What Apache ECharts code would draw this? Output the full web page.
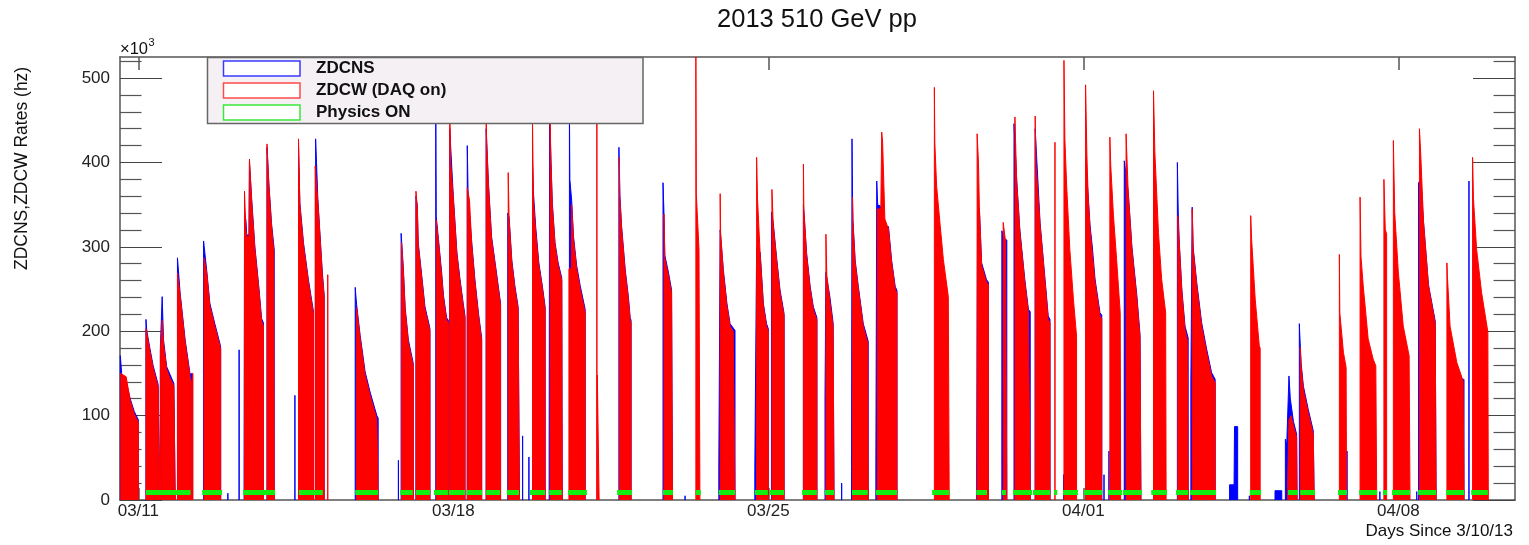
<!DOCTYPE html>
<html>
<head>
<meta charset="utf-8">
<script src="https://cdn.jsdelivr.net/npm/echarts@6/dist/echarts.min.js"></script>
<style>
html,body{margin:0;padding:0;background:#fff;}
#chart{width:1529px;height:545px;}
</style>
</head>
<body>
<div id="chart"></div>
<script>
// ---------------- DATA (days since 3/10/13, rates in 10^3 Hz) ----------------
const chartTitle = '2013 510 GeV pp';
const yAxisTitle = 'ZDCNS,ZDCW Rates (hz)';
const xAxisTitle = 'Days Since 3/10/13';
const seriesNames = ['ZDCNS', 'ZDCW (DAQ on)', 'Physics ON'];
const xTickDays = [1, 8, 15, 22, 29];
const xTickLabels = ['03/11', '03/18', '03/25', '04/01', '04/08'];
const yTickValues = [0, 100, 200, 300, 400, 500];
const physicsLevel = 9;

// ZDCW (DAQ on) fills: [day, rate] read along the top of each red fill
const zdcwFills = [
  [[0.61,150],[0.73,146],[0.82,118],[0.91,102],[1.00,92]],
  [[1.17,203],[1.26,176],[1.33,156],[1.44,134],[1.48,132]],
  [[1.49,176],[1.53,213],[1.56,185],[1.63,155],[1.70,145],[1.79,135],[1.82,133]],
  [[1.87,269],[1.93,242],[2.04,187],[2.15,146],[2.18,140]],
  [[2.46,287],[2.52,269],[2.59,230],[2.70,206],[2.82,181],[2.83,178]],
  [[3.36,366],[3.39,320],[3.41,312],[3.46,312],[3.47,404],[3.52,353],[3.59,297],[3.67,254],[3.74,212],[3.78,207]],
  [[3.86,422],[3.90,373],[3.96,325],[4.01,295],[4.02,293]],
  [[4.56,428],[4.59,349],[4.67,302],[4.78,258],[4.89,221]],
  [[4.93,396],[4.95,396],[4.99,353],[5.09,266],[5.13,240]],
  [[5.85,228],[5.93,191],[6.04,148],[6.15,124],[6.30,96],[6.33,94]],
  [[6.85,305],[6.89,270],[6.93,225],[7.00,187],[7.11,159]],
  [[7.17,366],[7.20,345],[7.22,302],[7.30,262],[7.37,226],[7.47,203],[7.48,200]],
  [[7.62,332],[7.67,305],[7.74,266],[7.78,240],[7.85,213],[7.89,210]],
  [[7.92,470],[7.94,400],[8.00,357],[8.08,290],[8.15,258],[8.22,230],[8.26,215]],
  [[8.31,370],[8.36,355],[8.41,302],[8.48,258],[8.56,218],[8.63,189]],
  [[8.73,460],[8.74,426],[8.78,373],[8.85,309],[8.96,266],[9.04,234],[9.05,230]],
  [[9.22,388],[9.24,332],[9.30,281],[9.37,250],[9.44,226],[9.47,224]],
  [[9.76,450],[9.78,355],[9.83,318],[9.90,278],[9.98,250],[10.04,226]],
  [[10.15,455],[10.17,400],[10.20,349],[10.26,302],[10.33,278],[10.41,260],[10.42,258]],
  [[10.57,274],[10.62,274],[10.63,350],[10.67,309],[10.74,274],[10.82,250],[10.93,222]],
  [[11.20,148],[11.24,148]],
  [[11.69,406],[11.70,359],[11.74,321],[11.82,270],[11.89,238],[11.93,213],[11.95,210]],
  [[12.68,339],[12.70,286],[12.78,266],[12.85,246],[12.87,244]],
  [[13.39,525],[13.40,363],[13.46,297],[13.48,295]],
  [[13.93,363],[13.94,317],[14.00,270],[14.08,230],[14.15,206],[14.22,200],[14.26,198]],
  [[14.74,406],[14.76,357],[14.82,290],[14.89,230],[14.96,206],[15.00,200]],
  [[15.08,368],[15.11,325],[15.19,281],[15.26,246],[15.35,218]],
  [[15.78,398],[15.79,345],[15.85,290],[15.93,250],[16.00,226],[16.08,213]],
  [[16.28,315],[16.30,266],[16.37,234],[16.44,206],[16.46,204]],
  [[16.87,359],[16.88,329],[16.93,281],[17.00,250],[17.11,206],[17.21,186],[17.22,185]],
  [[17.42,345],[17.50,345],[17.52,436],[17.54,424],[17.59,333],[17.67,321],[17.74,281],[17.82,250],[17.86,245]],
  [[18.69,489],[18.70,424],[18.74,372],[18.82,325],[18.89,285],[19.00,241],[19.02,240]],
  [[19.64,434],[19.67,400],[19.69,347],[19.74,278],[19.85,258],[19.89,255]],
  [[20.22,329],[20.25,329],[20.27,307],[20.30,305]],
  [[20.48,454],[20.52,376],[20.59,317],[20.70,258],[20.78,222],[20.82,220]],
  [[20.93,455],[20.95,396],[21.04,325],[21.15,258],[21.22,214],[21.26,210]],
  [[21.57,521],[21.59,428],[21.63,372],[21.70,297],[21.78,238],[21.85,194]],
  [[22.05,492],[22.08,408],[22.11,356],[22.15,320],[22.26,258],[22.37,218],[22.41,215]],
  [[22.59,430],[22.61,396],[22.67,337],[22.74,285],[22.82,222],[22.83,220]],
  [[22.95,434],[23.00,361],[23.08,297],[23.19,238],[23.26,192],[23.28,190]],
  [[23.56,485],[23.59,412],[23.67,317],[23.74,262],[23.83,222],[23.84,220]],
  [[24.10,337],[24.13,305],[24.19,246],[24.26,202],[24.31,190],[24.33,188]],
  [[24.42,345],[24.44,297],[24.52,254],[24.63,206],[24.74,175],[24.85,147],[24.93,139]],
  [[25.72,337],[25.74,309],[25.82,238],[25.91,183],[25.93,180]],
  [[26.54,20],[26.57,95],[26.62,100],[26.67,88],[26.74,74],[26.75,72]],
  [[26.82,181],[26.84,159],[26.89,131],[27.00,103],[27.11,78],[27.13,77]],
  [[27.69,291],[27.70,222],[27.78,175],[27.84,157],[27.85,155]],
  [[28.15,359],[28.17,289],[28.22,254],[28.33,191],[28.44,167],[28.50,159],[28.52,157]],
  [[28.68,380],[28.71,321],[28.74,315]],
  [[28.89,426],[28.92,341],[29.00,270],[29.11,206],[29.24,171],[29.26,169]],
  [[29.47,440],[29.50,408],[29.56,329],[29.67,254],[29.82,209],[29.84,207]],
  [[30.08,281],[30.09,266],[30.15,206],[30.30,163],[30.44,141],[30.46,140]],
  [[30.65,406],[30.67,357],[30.74,297],[30.85,246],[30.99,199],[31.00,198]]
];
// isolated thin ZDCW lines [day, rate]
const zdcwSpikes = [[2.21,150],[5.21,267],[11.19,460],[21.37,424]];

// ZDCNS fills (blue, drawn beneath the red)
const zdcnsFills = [
  [[0.60,171],[0.63,150],[0.73,140],[0.82,120],[0.91,105],[1.00,95]],
  [[1.17,214],[1.19,200],[1.26,179],[1.33,159],[1.44,137],[1.48,135]],
  [[1.49,180],[1.53,241],[1.56,190],[1.63,158],[1.79,138],[1.82,136]],
  [[1.87,287],[1.93,245],[2.04,190],[2.15,149],[2.20,150]],
  [[2.45,307],[2.52,272],[2.59,233],[2.70,209],[2.82,184],[2.83,181]],
  [[3.35,40],[3.36,340],[3.39,332],[3.41,314],[3.46,314],[3.47,400],[3.52,356],[3.59,300],[3.67,257],[3.74,215],[3.78,210]],
  [[3.86,418],[3.90,376],[3.96,328],[4.02,297]],
  [[4.56,420],[4.59,352],[4.67,305],[4.78,261],[4.89,224]],
  [[4.94,428],[4.96,400],[4.99,356],[5.09,269],[5.13,243]],
  [[5.82,252],[5.85,232],[5.93,195],[6.04,152],[6.15,128],[6.30,100],[6.33,97]],
  [[6.84,316],[6.89,274],[6.93,228],[7.00,190],[7.11,162]],
  [[7.17,360],[7.20,349],[7.22,305],[7.30,265],[7.37,229],[7.47,206],[7.48,203]],
  [[7.61,470],[7.62,336],[7.67,309],[7.74,270],[7.78,243],[7.85,216],[7.89,213]],
  [[7.92,440],[8.00,360],[8.08,293],[8.15,261],[8.22,233],[8.26,218]],
  [[8.31,420],[8.33,360],[8.36,358],[8.41,305],[8.48,261],[8.56,221],[8.63,192]],
  [[8.73,440],[8.78,376],[8.85,312],[8.96,269],[9.04,237],[9.05,233]],
  [[9.21,340],[9.24,335],[9.30,284],[9.37,253],[9.44,229],[9.47,227]],
  [[9.76,400],[9.78,365],[9.83,324],[9.90,281],[9.98,253],[10.04,229]],
  [[10.13,70],[10.14,455],[10.17,403],[10.20,352],[10.26,305],[10.33,281],[10.41,263],[10.42,261]],
  [[10.58,470],[10.59,380],[10.63,355],[10.67,313],[10.74,278],[10.82,254],[10.93,226]],
  [[11.68,418],[11.70,362],[11.74,324],[11.82,273],[11.89,241],[11.93,216],[11.95,213]],
  [[12.66,376],[12.68,342],[12.70,290],[12.78,270],[12.85,249],[12.87,247]],
  [[13.90,40],[13.93,320],[14.00,273],[14.08,233],[14.15,209],[14.26,201]],
  [[14.70,35],[14.74,300],[14.82,293],[14.89,233],[14.96,209],[15.00,203]],
  [[15.07,341],[15.11,328],[15.19,284],[15.26,249],[15.35,221]],
  [[15.78,350],[15.85,293],[15.93,253],[16.00,229],[16.08,216]],
  [[16.26,122],[16.28,270],[16.30,269],[16.37,240],[16.44,210],[16.46,208]],
  [[16.85,40],[16.86,428],[16.87,365],[16.88,332],[16.93,284],[17.00,253],[17.11,209],[17.22,188]],
  [[17.39,40],[17.41,378],[17.43,350],[17.50,348],[17.59,321],[17.67,324],[17.74,284],[17.82,253],[17.86,248]],
  [[19.63,30],[19.65,341],[19.69,345],[19.74,281],[19.85,261],[19.89,258]],
  [[20.19,319],[20.22,319],[20.24,310],[20.28,310],[20.30,308]],
  [[20.46,446],[20.48,446],[20.52,379],[20.59,320],[20.70,261],[20.78,226],[20.82,223]],
  [[20.93,440],[21.04,328],[21.15,261],[21.22,218],[21.26,214]],
  [[22.06,400],[22.11,359],[22.15,325],[22.20,300],[22.26,262],[22.37,222],[22.41,219]],
  [[22.91,402],[22.94,402],[23.00,364],[23.08,300],[23.19,242],[23.26,196],[23.28,194]],
  [[24.09,400],[24.11,340],[24.13,308],[24.19,249],[24.26,206],[24.33,192]],
  [[24.39,140],[24.42,347],[24.44,300],[24.52,258],[24.63,210],[24.74,179],[24.85,151],[24.93,143]],
  [[25.25,18],[25.35,18],[25.36,87],[25.43,87]],
  [[26.26,11],[26.41,11]],
  [[26.49,72],[26.52,65],[26.57,147],[26.60,120],[26.67,93],[26.74,78],[26.75,76]],
  [[26.80,209],[26.82,185],[26.84,162],[26.89,135],[27.00,107],[27.11,82],[27.13,80]],
  [[29.45,376],[29.50,380],[29.56,330],[29.67,255],[29.82,212],[29.84,211]],
  [[30.40,143],[30.46,143]]
];
// isolated thin ZDCNS lines [day, rate]
const zdcnsSpikes = [[2.99,8],[3.24,178],[4.48,124],[6.78,47],[9.54,76],[9.68,51],[13.15,5],
  [16.63,20],[21.56,30],[22.46,30],[22.57,58],[25.69,5],[27.86,58],[28.59,10],[29.41,10],[30.57,378]];

// Physics ON periods [start day, end day]
const physicsOn = [
  [1.17,2.16],[2.42,2.86],[3.33,4.04],[4.57,5.10],[5.82,6.33],[6.82,7.10],[7.17,7.48],[7.57,7.88],
  [7.90,8.26],[8.30,8.64],[8.73,9.04],[9.19,9.46],[9.70,10.04],[10.13,10.41],[10.55,10.97],[11.64,11.97],
  [12.66,12.88],[13.39,13.50],[13.90,14.26],[14.70,14.99],[15.02,15.35],[15.75,16.08],[16.26,16.46],
  [16.86,17.21],[17.39,17.86],[18.64,19.02],[19.62,19.86],[20.19,20.28],[20.44,20.86],[20.88,21.26],
  [21.35,21.42],[21.55,21.88],[22.02,22.42],[22.55,22.86],[22.88,23.30],[23.51,23.86],[24.06,24.33],
  [24.37,24.95],[25.70,25.95],[26.55,26.77],[26.82,27.15],[27.66,27.86],[28.13,28.53],[28.66,28.75],
  [28.86,29.26],[29.44,29.84],[30.06,30.46],[30.62,30.99]
];

// ---------------- BUILD ----------------
function buildArea(fills, spikes) {
  const out = [];
  fills.forEach(f => {
    out.push([f[0][0], 0]);
    f.forEach(p => out.push(p));
    out.push([f[f.length - 1][0], 0]);
    out.push([f[f.length - 1][0], null]);
  });
  spikes.forEach(s => {
    out.push([s[0], 0], [s[0], s[1]], [s[0], 0], [s[0], null]);
  });
  return out;
}
const greenData = [];
physicsOn.forEach(p => { greenData.push([p[0], physicsLevel], [p[1], physicsLevel], [p[1], null]); });

const yMinorValues = [];
for (let v = 20; v <= 520; v += 20) if (v % 100 !== 0) yMinorValues.push(v);

const FONT = '"Liberation Sans", Arial, Helvetica, sans-serif';
const AXC = '#555';
const X0 = 0.593, X1 = 31.593, Y0 = 0, Y1 = 525;

const chart = echarts.init(document.getElementById('chart'), null, {renderer: 'canvas'});
const legendRows = [
  {y: 68.5, color: '#3a3aff'},
  {y: 90.5, color: '#ff4a4a'},
  {y: 112.5, color: '#3ae83a'}
];
const graphics = [
  {type: 'text', x: 817, y: 20, z: 20, style: {text: chartTitle, font: '25.5px ' + FONT, fill: '#111', textAlign: 'center', textVerticalAlign: 'middle'}},
  {type: 'text', x: 22, y: 270, rotation: Math.PI / 2, z: 20, style: {text: yAxisTitle, font: '17.5px ' + FONT, fill: '#111', textAlign: 'left', textVerticalAlign: 'middle'}},
  {type: 'text', x: 1513, y: 531, z: 20, style: {text: xAxisTitle, font: '17px ' + FONT, fill: '#111', textAlign: 'right', textVerticalAlign: 'middle'}},
  {type: 'text', x: 120, y: 49, z: 20, style: {text: '\u00d710', font: '16.5px ' + FONT, fill: '#111', textAlign: 'left', textVerticalAlign: 'middle'}},
  {type: 'text', x: 148.5, y: 43, z: 20, style: {text: '3', font: '11px ' + FONT, fill: '#111', textAlign: 'left', textVerticalAlign: 'middle'}},
  {type: 'rect', z: 30, shape: {x: 207.5, y: 57.5, width: 435.5, height: 66}, style: {fill: '#f4f0f4', stroke: '#666', lineWidth: 1.5}}
];
legendRows.forEach((r, i) => {
  graphics.push({type: 'rect', z: 31, shape: {x: 223.5, y: r.y - 7.5, width: 76.5, height: 15}, style: {fill: '#fff', stroke: r.color, lineWidth: 1.5}});
  graphics.push({type: 'text', z: 31, x: 316, y: r.y, style: {text: seriesNames[i], font: 'bold 17px ' + FONT, fill: '#111', textAlign: 'left', textVerticalAlign: 'middle'}});
});

const baseX = {type: 'value', min: X0, max: X1, splitLine: {show: false}};
const baseY = {type: 'value', min: Y0, max: Y1, splitLine: {show: false}};

const option = {
  animation: false,
  backgroundColor: '#fff',
  grid: {left: 120, right: 14, top: 57, bottom: 45, containLabel: false},
  xAxis: [
    Object.assign({}, baseX, {
      position: 'bottom',
      axisLine: {show: true, onZero: false, lineStyle: {color: AXC, width: 1.5}},
      axisTick: {show: true, inside: true, length: 12, customValues: xTickDays, lineStyle: {color: AXC, width: 1.5}},
      axisLabel: {show: true, customValues: xTickDays, margin: 3, fontSize: 17, fontFamily: FONT, color: '#222',
        formatter: v => { const i = xTickDays.indexOf(Math.round(v)); return i >= 0 ? xTickLabels[i] : ''; }}
    }),
    Object.assign({}, baseX, {
      position: 'top',
      axisLine: {show: true, onZero: false, lineStyle: {color: AXC, width: 1.5}},
      axisTick: {show: true, inside: true, length: 13, customValues: xTickDays, lineStyle: {color: AXC, width: 1.5}},
      axisLabel: {show: false}
    })
  ],
  yAxis: [
    Object.assign({}, baseY, {
      position: 'left',
      axisLine: {show: true, onZero: false, lineStyle: {color: AXC, width: 1.5}},
      axisTick: {show: true, inside: true, length: 42, customValues: yTickValues, lineStyle: {color: '#444', width: 1.2}},
      axisLabel: {show: true, customValues: yTickValues, margin: 10, fontSize: 17, fontFamily: FONT, color: '#222'}
    }),
    Object.assign({}, baseY, {
      position: 'left',
      axisLine: {show: false},
      axisTick: {show: true, inside: true, length: 21.5, customValues: yMinorValues, lineStyle: {color: '#555', width: 1.2}},
      axisLabel: {show: false}
    }),
    Object.assign({}, baseY, {
      position: 'right',
      axisLine: {show: true, onZero: false, lineStyle: {color: AXC, width: 1.5}},
      axisTick: {show: true, inside: true, length: 42, customValues: yTickValues, lineStyle: {color: '#444', width: 1.2}},
      axisLabel: {show: false}
    }),
    Object.assign({}, baseY, {
      position: 'right',
      axisLine: {show: false},
      axisTick: {show: true, inside: true, length: 21.5, customValues: yMinorValues, lineStyle: {color: '#555', width: 1.2}},
      axisLabel: {show: false}
    })
  ],
  graphic: graphics,
  series: [
    {
      name: seriesNames[0], type: 'line', xAxisIndex: 0, yAxisIndex: 0,
      data: buildArea(zdcnsFills, zdcnsSpikes), showSymbol: false, symbol: 'none', connectNulls: false,
      lineStyle: {color: '#0000ff', width: 1}, itemStyle: {color: '#0000ff'},
      areaStyle: {color: '#0000ff', opacity: 1, origin: 'start'}, z: 2, silent: true
    },
    {
      name: seriesNames[1], type: 'line', xAxisIndex: 0, yAxisIndex: 0,
      data: buildArea(zdcwFills, zdcwSpikes), showSymbol: false, symbol: 'none', connectNulls: false,
      lineStyle: {color: '#ff0000', width: 1}, itemStyle: {color: '#ff0000'},
      areaStyle: {color: '#ff0000', opacity: 1, origin: 'start'}, z: 3, silent: true
    },
    {
      name: seriesNames[2], type: 'line', xAxisIndex: 0, yAxisIndex: 0,
      data: greenData, showSymbol: false, symbol: 'none', connectNulls: false,
      lineStyle: {color: '#10f010', width: 5, cap: 'butt'}, itemStyle: {color: '#10f010'}, z: 4, silent: true
    }
  ]
};
chart.setOption(option);
</script>
</body>
</html>
